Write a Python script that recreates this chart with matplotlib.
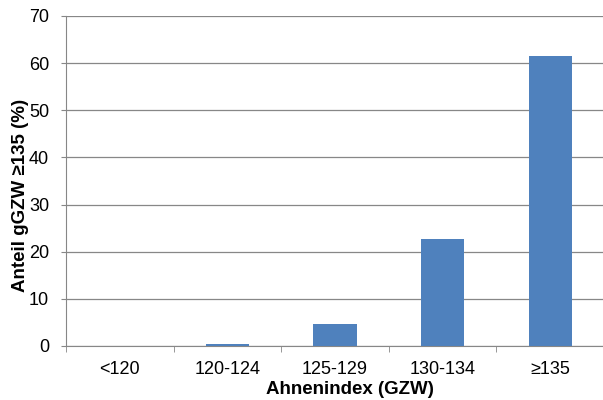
import numpy as np
import matplotlib.pyplot as plt

plt.rcParams['font.family'] = ['Liberation Sans', 'DejaVu Sans']

categories = ['<120', '120-124', '125-129', '130-134', '≥135']
values = [0.0, 0.5, 4.7, 22.6, 61.6]

fig = plt.figure(figsize=(6.03, 4.0), dpi=100)
ax = fig.add_axes([66 / 603, 54 / 400, 538 / 603, 330 / 400])

x = np.arange(len(categories))
ax.bar(x, values, width=0.4, color='#4f81bd', zorder=3)

ax.set_xlim(-0.5, len(categories) - 0.5)
ax.set_ylim(0, 70)
ax.set_yticks(np.arange(0, 71, 10))
ax.set_xticks(x)
ax.set_xticklabels(categories)
ax.set_xticks(np.arange(-0.5, len(categories), 1), minor=True)
ax.tick_params(axis='x', which='major', length=0, pad=10.5, labelsize=13)
ax.tick_params(axis='x', which='minor', length=4, color='#878787')
ax.tick_params(axis='y', length=3.6, color='#878787', labelsize=13, pad=8.5)

ax.grid(axis='y', color='#878787', linewidth=0.9, zorder=0)
for side in ['top', 'right']:
    ax.spines[side].set_visible(False)
for side in ['left', 'bottom']:
    ax.spines[side].set_color('#878787')

ax.set_xlabel('Ahnenindex (GZW)', fontsize=13.5, fontweight='bold')
ax.xaxis.set_label_coords(0.528, -0.105)
ax.set_ylabel('Anteil gGZW ≥135 (%)', fontsize=13.5, fontweight='bold', va='center')
ax.yaxis.set_label_coords(-0.0855, 0.455)

plt.savefig('out.png', dpi=100)
